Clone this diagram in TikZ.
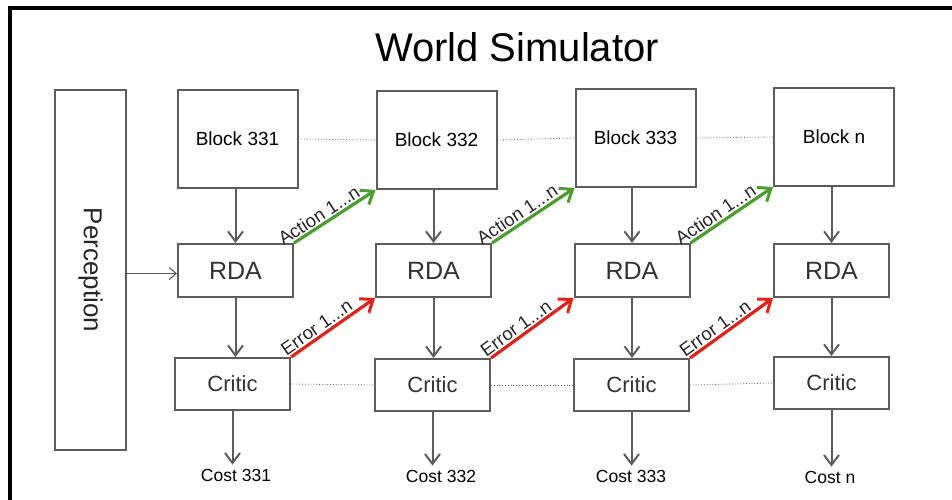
\documentclass[tikz,border=0pt]{standalone}
\usepackage{fontspec}
\setmainfont{Liberation Sans}
\usetikzlibrary{arrows.meta}
\definecolor{boxgray}{HTML}{5C5C5C}
\definecolor{actgreen}{HTML}{4A9E2E}
\definecolor{errred}{HTML}{E0231A}
\tikzset{
  box/.style={draw=boxgray, line width=2pt, fill=white, inner sep=0pt, align=center},
  blockbox/.style={box, minimum width=120pt, minimum height=98pt, font=\fontsize{19}{21}\selectfont},
  rdabox/.style={box, minimum width=115pt, minimum height=53pt, font=\fontsize{25}{28}\selectfont, text=black!80},
  criticbox/.style={box, minimum width=115pt, minimum height=52pt, font=\fontsize{22}{25}\selectfont, text=black!80},
  costlbl/.style={font=\fontsize{17.5}{19}\selectfont, inner sep=1pt},
  flow/.style={draw=boxgray, line width=2pt, -{Straight Barb[length=10pt,width=15pt,line width=2pt]}},
  thinflow/.style={draw=boxgray, line width=1.1pt, -{Straight Barb[length=7pt,width=12pt,line width=1.1pt]}},
  actarrow/.style={draw=actgreen, line width=3.2pt, -{Straight Barb[length=11pt,width=17pt,line width=3pt]}},
  errarrow/.style={draw=errred, line width=3.2pt, -{Straight Barb[length=11pt,width=17pt,line width=3pt]}},
  dotline/.style={draw=boxgray, line width=0.8pt, dotted},
  slabel/.style={font=\fontsize{18.5}{20}\selectfont, text=black!85, inner sep=1.5pt, pos=0.37, above, sloped}
}
\begin{document}
\begin{tikzpicture}[x=1pt,y=-1pt]
\useasboundingbox (0,0) rectangle (952,499);
\fill[white] (0,0) rectangle (952,499);
% frame (only top and left visible)
\draw[black, line width=3.5pt] (10,515) -- (10,8) -- (970,8);
% title
\node (title) at (517,47) {\fontsize{40}{44}\selectfont World Simulator};
% perception
\node[box, minimum width=71pt, minimum height=360pt] (p) at (90.5,270) {};
\node[rotate=-90, font=\fontsize{26}{28}\selectfont, text=black!85] (ptext) at (p.center) {Perception};
% blocks
\node[blockbox] (b1) at (237.5,139) {Block 331};
\node[blockbox] (b2) at (436.5,140) {Block 332};
\node[blockbox] (b3) at (635.5,138) {Block 333};
\node[blockbox] (b4) at (834,137) {Block n};
% RDA
\node[rdabox] (r1) at (235.5,270.5) {RDA};
\node[rdabox] (r2) at (433.5,270.5) {RDA};
\node[rdabox] (r3) at (632,270.5) {RDA};
\node[rdabox] (r4) at (831.5,270.5) {RDA};
% Critics
\node[criticbox] (c1) at (232.5,384) {Critic};
\node[criticbox] (c2) at (432.5,385) {Critic};
\node[criticbox] (c3) at (631.5,385) {Critic};
\node[criticbox] (c4) at (831.5,383) {Critic};
% costs
\node[costlbl] (k1) at (236,475) {Cost 331};
\node[costlbl] (k2) at (441,476) {Cost 332};
\node[costlbl] (k3) at (631,476) {Cost 333};
\node[costlbl] (k4) at (830,477) {Cost n};
% dotted links
\draw[dotline] (b1.east) -- (b2.west);
\draw[dotline] (b2.east) -- (b3.west);
\draw[dotline] (b3.east) -- (b4.west);
\draw[dotline] (c1.east) -- (c2.west);
\draw[dotline] (c2.east) -- (c3.west);
\draw[dotline] (c3.east) -- (c4.west);
% perception arrow
\coordinate (pa) at ([yshift=-3pt]p.east |- r1.west);
\draw[thinflow] (pa) -- (r1.west |- pa);
% vertical flows
\foreach \i in {1,...,4}{
  \draw[flow] (r\i.north |- b\i.south) -- (r\i.north);
  \draw[flow] (r\i.south) -- (r\i.south |- c\i.north);
  \draw[flow] (c\i.south) -- ([yshift=3pt]c\i.south |- k\i.north);
}
% action and error arrows
\draw[actarrow] (r1.north east) -- node[slabel] {Action 1...n} (b2.south west);
\draw[actarrow] (r2.north east) -- node[slabel] {Action 1...n} (b3.south west);
\draw[actarrow] (r3.north east) -- node[slabel] {Action 1...n} (b4.south west);
\draw[errarrow] (c1.north east) -- node[slabel] {Error 1...n} (r2.south west);
\draw[errarrow] (c2.north east) -- node[slabel] {Error 1...n} (r3.south west);
\draw[errarrow] (c3.north east) -- node[slabel] {Error 1...n} (r4.south west);
\end{tikzpicture}
\end{document}
